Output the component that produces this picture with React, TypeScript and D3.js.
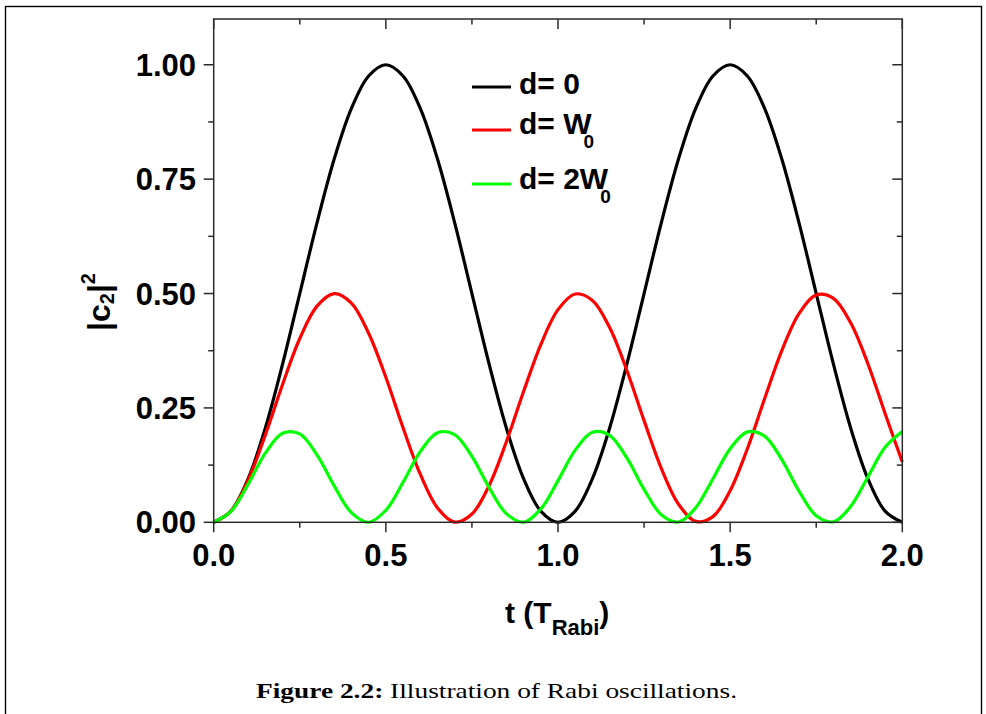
import React from "react";
import * as d3 from "d3";

// time axis samples (T_Rabi)
const tValues: number[] = Array.from({ length: 41 }, (_, i) => +(i * 0.05).toFixed(2));

// |c2|^2, d = 0
const black: number[] = [
  0, 0.0245, 0.0955, 0.2061, 0.3455, 0.5, 0.6545, 0.7939, 0.9045, 0.9755, 1.0,
  0.9755, 0.9045, 0.7939, 0.6545, 0.5, 0.3455, 0.2061, 0.0955, 0.0245, 0,
  0.0245, 0.0955, 0.2061, 0.3455, 0.5, 0.6545, 0.7939, 0.9045, 0.9755, 1.0,
  0.9755, 0.9045, 0.7939, 0.6545, 0.5, 0.3455, 0.2061, 0.0955, 0.0245, 0,
];
// d = W0
const red: number[] = [
  0, 0.0243, 0.0924, 0.1911, 0.3012, 0.4017, 0.4724, 0.4999, 0.4792, 0.4132, 0.3169,
  0.2065, 0.1051, 0.0315, 0.0005, 0.018, 0.0804, 0.1759, 0.2857, 0.3884, 0.4648,
  0.499, 0.4849, 0.4256, 0.3319, 0.2222, 0.118, 0.0396, 0.002, 0.0125, 0.0692,
  0.1608, 0.27, 0.3752, 0.4562, 0.4969, 0.4896, 0.436, 0.3466, 0.2379, 0.1316,
];
// d = 2W0
const green: number[] = [
  0, 0.0237, 0.0835, 0.1512, 0.1946, 0.1932, 0.1474, 0.0797, 0.0212, 0.0001, 0.0263,
  0.0874, 0.1545, 0.1958, 0.1918, 0.1439, 0.0758, 0.0189, 0.0003, 0.029, 0.0912,
  0.1577, 0.1968, 0.1902, 0.1406, 0.0721, 0.0166, 0.0007, 0.0318, 0.0952, 0.1609,
  0.1977, 0.1884, 0.1371, 0.0683, 0.0145, 0.0012, 0.0347, 0.0991, 0.164, 0.1984,
];

const xMajorTicks: number[] = [0, 0.5, 1.0, 1.5, 2.0];
const xMinorTicks: number[] = [0.25, 0.75, 1.25, 1.75];
const yMajorTicks: number[] = [0, 0.25, 0.5, 0.75, 1.0];
const yMinorTicks: number[] = [0.125, 0.375, 0.625, 0.875];

const seriesNames: string[] = ["d= 0", "d= W", "d= 2W"];
const seriesColors: string[] = ["#000000", "#ff0000", "#00ff00"];
const seriesData: number[][] = [black, red, green];

const L = 213.7, R = 902.3, T = 19, B = 522.3;

export default function App() {
  const x = d3.scaleLinear().domain([0, 2]).range([L, R]);
  const y = d3.scaleLinear().domain([0, 1.1]).range([B, T]);
  const line = d3
    .line<number>()
    .x((_, i) => x(tValues[i]))
    .y((v) => y(v))
    .curve(d3.curveCatmullRom.alpha(0.5));

  const axisColor = "#2a2a2a";
  const sans = "'Liberation Sans', Arial, sans-serif";

  return (
    <svg
      width={986}
      height={714}
      style={{ position: "absolute", left: 0, top: 0, background: "#fff" }}
    >
      <rect x={0} y={0} width={986} height={714} fill="#fff" />
      {/* page frame */}
      <rect x={5.5} y={6.5} width={976} height={720} fill="none" stroke="#000" strokeWidth={1.4} />

      <defs>
        <clipPath id="clip">
          <rect x={L - 2} y={T} width={R - L + 4} height={B - T + 2} />
        </clipPath>
      </defs>

      {/* curves */}
      <g clipPath="url(#clip)">
        {seriesData.map((d, i) => (
          <path key={i} d={line(d) || ""} fill="none" stroke={seriesColors[i]} strokeWidth={3.2} strokeLinejoin="round" />
        ))}
      </g>

      {/* plot frame */}
      <rect x={L} y={T} width={R - L} height={B - T} fill="none" stroke={axisColor} strokeWidth={1.5} />

      {/* x ticks */}
      {xMajorTicks.map((t) => (
        <g key={"xm" + t}>
          <line x1={x(t)} x2={x(t)} y1={B} y2={B + 10} stroke={axisColor} strokeWidth={1.5} />
          <line x1={x(t)} x2={x(t)} y1={T} y2={T + 10} stroke={axisColor} strokeWidth={1.5} />
          <text x={x(t)} y={566} textAnchor="middle" fontFamily={sans} fontWeight="bold" fontSize={31} fill="#000">
            {t.toFixed(1)}
          </text>
        </g>
      ))}
      {xMinorTicks.map((t) => (
        <g key={"xn" + t}>
          <line x1={x(t)} x2={x(t)} y1={B} y2={B + 5.5} stroke={axisColor} strokeWidth={1.5} />
          <line x1={x(t)} x2={x(t)} y1={T} y2={T + 5.5} stroke={axisColor} strokeWidth={1.5} />
        </g>
      ))}

      {/* y ticks */}
      {yMajorTicks.map((v) => (
        <g key={"ym" + v}>
          <line x1={L - 10} x2={L} y1={y(v)} y2={y(v)} stroke={axisColor} strokeWidth={1.5} />
          <line x1={R - 10} x2={R} y1={y(v)} y2={y(v)} stroke={axisColor} strokeWidth={1.5} />
          <text x={196} y={y(v) + 11} textAnchor="end" fontFamily={sans} fontWeight="bold" fontSize={31} fill="#000">
            {v.toFixed(2)}
          </text>
        </g>
      ))}
      {yMinorTicks.map((v) => (
        <g key={"yn" + v}>
          <line x1={L - 5.5} x2={L} y1={y(v)} y2={y(v)} stroke={axisColor} strokeWidth={1.5} />
          <line x1={R - 5.5} x2={R} y1={y(v)} y2={y(v)} stroke={axisColor} strokeWidth={1.5} />
        </g>
      ))}

      {/* y axis label */}
      <text
        transform="translate(110, 302) rotate(-90)"
        textAnchor="middle"
        fontFamily={sans}
        fontWeight="bold"
        fontSize={32}
        fill="#000"
      >
        |c<tspan fontSize={20} dy={4}>2</tspan>
        <tspan dy={-4}>|</tspan>
        <tspan fontSize={20} dy={-15}>2</tspan>
      </text>

      {/* x axis label */}
      <text x={505} y={623} fontFamily={sans} fontWeight="bold" fontSize={30} fill="#000">
        t (T<tspan fontSize={22} dy={12}>Rabi</tspan>
        <tspan dy={-12}>)</tspan>
      </text>

      {/* legend */}
      {seriesNames.map((name, i) => {
        const ly = [87, 130, 184][i];
        const ty = [94, 134, 189][i];
        return (
          <g key={name}>
            <line x1={472} x2={511} y1={ly} y2={ly} stroke={seriesColors[i]} strokeWidth={3.2} />
            <text x={519} y={ty} fontFamily={sans} fontWeight="bold" fontSize={30} fill="#000">
              {name}
              {i > 0 ? (
                <tspan fontSize={19} dx={-8} dy={14}>0</tspan>
              ) : null}
            </text>
          </g>
        );
      })}

      {/* caption */}
      <text x={256} y={698} fontFamily="'Liberation Serif', 'DejaVu Serif', serif" fontSize={21} fill="#000" textLength={481} lengthAdjust="spacingAndGlyphs">
        <tspan fontWeight="bold">Figure 2.2:</tspan> Illustration of Rabi oscillations.
      </text>
    </svg>
  );
}
